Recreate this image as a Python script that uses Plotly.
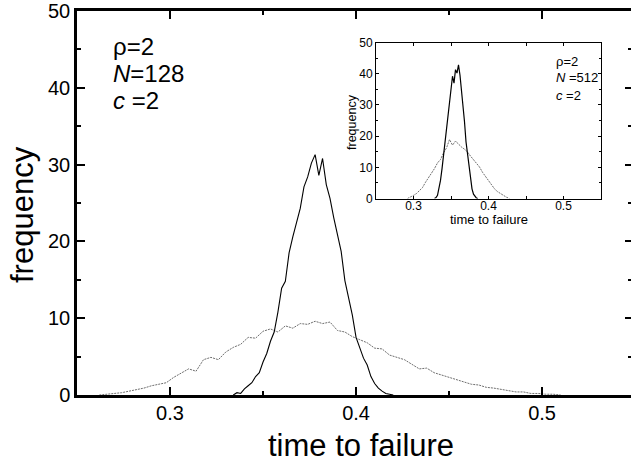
import plotly.graph_objects as go

# ---------------- data ----------------
# main panel (N=128): solid black series
main_solid_x = [0.334, 0.336, 0.338, 0.340, 0.342, 0.344, 0.346, 0.348, 0.350, 0.352,
                0.354, 0.356, 0.358, 0.360, 0.362, 0.364, 0.366, 0.368, 0.370, 0.372,
                0.374, 0.376, 0.378, 0.380, 0.382, 0.384, 0.386, 0.388, 0.390, 0.392,
                0.394, 0.396, 0.398, 0.400, 0.402, 0.404, 0.406, 0.408, 0.410, 0.412,
                0.414, 0.416, 0.418, 0.420]
main_solid_y = [0.0, 0.3, 0.2, 0.8, 1.2, 1.6, 2.4, 2.9, 4.3, 5.4,
                7.0, 8.2, 10.8, 13.9, 14.8, 18.5, 20.6, 22.5, 24.3, 27.1,
                28.4, 30.2, 31.3, 28.6, 30.8, 27.4, 25.6, 23.1, 20.8, 18.7,
                14.9, 12.6, 10.4, 7.5, 6.2, 4.8, 3.9, 2.4, 1.5, 0.9,
                0.5, 0.2, 0.1, 0.0]

# main panel: dotted grey series
main_dot_x = [0.262, 0.266, 0.270, 0.274, 0.278, 0.282, 0.286, 0.290, 0.294, 0.298,
              0.302, 0.306, 0.310, 0.314, 0.318, 0.322, 0.326, 0.330, 0.334, 0.338,
              0.342, 0.346, 0.350, 0.354, 0.358, 0.362, 0.366, 0.370, 0.374, 0.378,
              0.382, 0.386, 0.390, 0.394, 0.398, 0.402, 0.406, 0.410, 0.414, 0.418,
              0.422, 0.426, 0.430, 0.434, 0.438, 0.442, 0.446, 0.450, 0.454, 0.458,
              0.462, 0.466, 0.470, 0.474, 0.478, 0.482, 0.486, 0.490, 0.494, 0.498,
              0.502, 0.506, 0.510]
main_dot_y = [0.0, 0.1, 0.2, 0.3, 0.5, 0.7, 0.9, 1.2, 1.4, 1.6,
              2.3, 2.8, 3.4, 3.1, 4.6, 4.9, 4.6, 5.6, 6.2, 6.6,
              7.5, 7.4, 8.3, 8.6, 8.2, 9.0, 8.7, 9.3, 9.2, 9.6,
              9.3, 9.5, 8.4, 8.2, 7.6, 7.2, 6.8, 6.1, 6.0, 5.2,
              4.9, 4.6, 4.0, 3.4, 3.5, 2.9, 2.6, 2.3, 2.1, 1.7,
              1.4, 1.3, 1.0, 0.9, 0.7, 0.5, 0.4, 0.4, 0.2, 0.2,
              0.1, 0.1, 0.0]

# inset (N=512): solid black series
inset_solid_x = [0.328, 0.330, 0.332, 0.334, 0.336, 0.338, 0.340, 0.342, 0.344, 0.346,
                 0.348, 0.350, 0.352, 0.354, 0.356, 0.358, 0.360, 0.362, 0.364, 0.366,
                 0.368, 0.370, 0.372, 0.374, 0.376, 0.378, 0.380, 0.382, 0.384, 0.386]
inset_solid_y = [0.0, 0.3, 1.0, 3.2, 5.8, 9.5, 13.8, 16.5, 20.4, 26.8,
                 30.5, 34.1, 39.2, 37.0, 41.3, 40.2, 42.8, 39.5, 35.0, 28.9,
                 24.6, 18.2, 14.5, 9.8, 5.6, 3.1, 1.4, 0.5, 0.1, 0.0]

# inset: dotted grey series
inset_dot_x = [0.292, 0.296, 0.300, 0.304, 0.308, 0.312, 0.316, 0.320, 0.324, 0.328,
               0.332, 0.336, 0.340, 0.344, 0.348, 0.352, 0.356, 0.360, 0.364, 0.368,
               0.372, 0.376, 0.380, 0.384, 0.388, 0.392, 0.396, 0.400, 0.404, 0.408,
               0.412, 0.416, 0.420, 0.424, 0.428]
inset_dot_y = [0.0, 0.4, 1.0, 1.6, 2.6, 3.5, 5.2, 6.6, 8.0, 9.6,
               11.4, 12.5, 14.6, 16.2, 18.9, 17.1, 18.4, 17.3, 16.5, 15.8,
               14.9, 13.6, 12.4, 11.2, 10.1, 8.4, 7.0, 5.6, 4.2, 3.1,
               2.2, 1.6, 0.9, 0.4, 0.0]

x_tickvals = [0.3, 0.4, 0.5]
x_ticktext = ["0.3", "0.4", "0.5"]
y_tickvals = [0, 10, 20, 30, 40, 50]
y_ticktext = ["0", "10", "20", "30", "40", "50"]

main_labels = ["\u03c1=2", "<i>N</i>=128", "<i>c</i> =2"]
inset_labels = ["\u03c1=2", "<i>N</i> =512", "<i>c</i> =2"]

# ---------------- figure ----------------
FONT = "Liberation Sans, Arial, Helvetica, sans-serif"
W, H = 631, 468
ML, MR, MT, MB = 77, 0, 11, 73
PW, PH = W - ML - MR, H - MT - MB


def px_x(p):
    return (p - ML) / PW


def px_y(p):
    return (H - MB - p) / PH


fig = go.Figure()

fig.add_trace(go.Scatter(x=main_dot_x, y=main_dot_y, mode="lines",
                         line=dict(color="#6e6e6e", width=1, dash="2px,1px"),
                         xaxis="x", yaxis="y", showlegend=False))
fig.add_trace(go.Scatter(x=main_solid_x, y=main_solid_y, mode="lines",
                         line=dict(color="black", width=1.1),
                         xaxis="x", yaxis="y", showlegend=False))
fig.add_trace(go.Scatter(x=inset_dot_x, y=inset_dot_y, mode="lines",
                         line=dict(color="#6e6e6e", width=1, dash="2px,1px"),
                         xaxis="x2", yaxis="y2", showlegend=False))
fig.add_trace(go.Scatter(x=inset_solid_x, y=inset_solid_y, mode="lines",
                         line=dict(color="black", width=1.2),
                         xaxis="x2", yaxis="y2", showlegend=False))
# carriers for the mirrored top / right axes of the main panel
fig.add_trace(go.Scatter(x=[0.4], y=[None], xaxis="x3", yaxis="y",
                         mode="lines", showlegend=False, hoverinfo="skip"))
fig.add_trace(go.Scatter(x=[0.4], y=[None], xaxis="x", yaxis="y3",
                         mode="lines", showlegend=False, hoverinfo="skip"))

XR = [0.25, 0.5478]
YR = [0, 50]

main_common = dict(showgrid=False, zeroline=False, ticks="inside",
                   tickcolor="black", linecolor="black")

fig.update_layout(
    width=W, height=H,
    margin=dict(l=ML, r=MR, t=MT, b=MB, pad=0),
    paper_bgcolor="white", plot_bgcolor="white",
    font=dict(family=FONT, color="black"),
    xaxis=dict(range=XR, domain=[0, 1], anchor="y", showline=True, linewidth=2.5,
               tickvals=x_tickvals, ticktext=x_ticktext, ticklen=8, tickwidth=2,
               ticklabelstandoff=-2,
               minor=dict(dtick=0.05, tick0=0, ticks="inside", ticklen=4, tickwidth=2,
                          tickcolor="black", showgrid=False),
               tickfont=dict(size=20, family=FONT), **main_common),
    xaxis3=dict(range=XR, overlaying="x", side="top", anchor="y", showline=True,
                linewidth=2.5, tickvals=x_tickvals, showticklabels=False,
                ticklen=8, tickwidth=2,
                minor=dict(dtick=0.05, tick0=0, ticks="inside", ticklen=4, tickwidth=2,
                           tickcolor="black", showgrid=False),
                **main_common),
    yaxis=dict(range=YR, domain=[0, 1], anchor="x", showline=True, linewidth=2.5,
               tickvals=y_tickvals, ticktext=y_ticktext, ticklen=8, tickwidth=2,
               minor=dict(dtick=5, tick0=0, ticks="inside", ticklen=4, tickwidth=2,
                          tickcolor="black", showgrid=False),
               tickfont=dict(size=20, family=FONT), **main_common),
    yaxis3=dict(range=YR, overlaying="y", side="right", anchor="x", showline=False,
                tickvals=y_tickvals, showticklabels=False, ticklen=6, tickwidth=2,
                minor=dict(dtick=5, tick0=0, ticks="inside", ticklen=3, tickwidth=2,
                           tickcolor="black", showgrid=False),
                **main_common),
    xaxis2=dict(range=[0.25, 0.55], domain=[px_x(376), px_x(601)], anchor="y2",
                showline=True, linewidth=1, mirror="ticks",
                tickvals=x_tickvals, ticktext=x_ticktext, ticklen=3, tickwidth=1,
                ticklabelstandoff=-4,
                minor=dict(dtick=0.05, tick0=0, ticks="inside", ticklen=3, tickwidth=1,
                           tickcolor="black", showgrid=False),
                tickfont=dict(size=12, family=FONT), **main_common),
    yaxis2=dict(range=YR, domain=[px_y(198.5), px_y(42.5)], anchor="x2",
                showline=True, linewidth=1, mirror="ticks",
                tickvals=y_tickvals, ticktext=y_ticktext, ticklen=3, tickwidth=1,
                minor=dict(dtick=5, tick0=0, ticks="inside", ticklen=2, tickwidth=1,
                           tickcolor="black", showgrid=False),
                tickfont=dict(size=12, family=FONT), **main_common),
)

ann = []
# main axis titles
ann.append(dict(text="time to failure", x=px_x(361), y=px_y(445), xref="paper", yref="paper",
                xanchor="center", yanchor="middle", showarrow=False,
                font=dict(size=31, family=FONT, color="black")))
ann.append(dict(text="frequency", x=px_x(22), y=px_y(215), xref="paper", yref="paper",
                xanchor="center", yanchor="middle", showarrow=False, textangle=-90,
                font=dict(size=31, family=FONT, color="black")))
# inset axis titles
ann.append(dict(text="time to failure", x=px_x(489), y=px_y(220), xref="paper", yref="paper",
                xanchor="center", yanchor="middle", showarrow=False,
                font=dict(size=13, family=FONT, color="black")))
ann.append(dict(text="frequency", x=px_x(352), y=px_y(122), xref="paper", yref="paper",
                xanchor="center", yanchor="middle", showarrow=False, textangle=-90,
                font=dict(size=12.5, family=FONT, color="black")))
# parameter labels
for lab, yy in zip(main_labels, [46, 73, 100]):
    ann.append(dict(text=lab, x=px_x(111), y=px_y(yy), xref="paper", yref="paper",
                    xanchor="left", yanchor="middle", showarrow=False,
                    font=dict(size=24, family=FONT, color="black")))
for lab, yy in zip(inset_labels, [61, 78, 95]):
    ann.append(dict(text=lab, x=px_x(554), y=px_y(yy), xref="paper", yref="paper",
                    xanchor="left", yanchor="middle", showarrow=False,
                    font=dict(size=13, family=FONT, color="black")))
fig.update_layout(annotations=ann)

fig.write_html("out.html", config={"displayModeBar": False},
               post_script="document.body.style.margin='0px';document.body.style.overflow='hidden';")
